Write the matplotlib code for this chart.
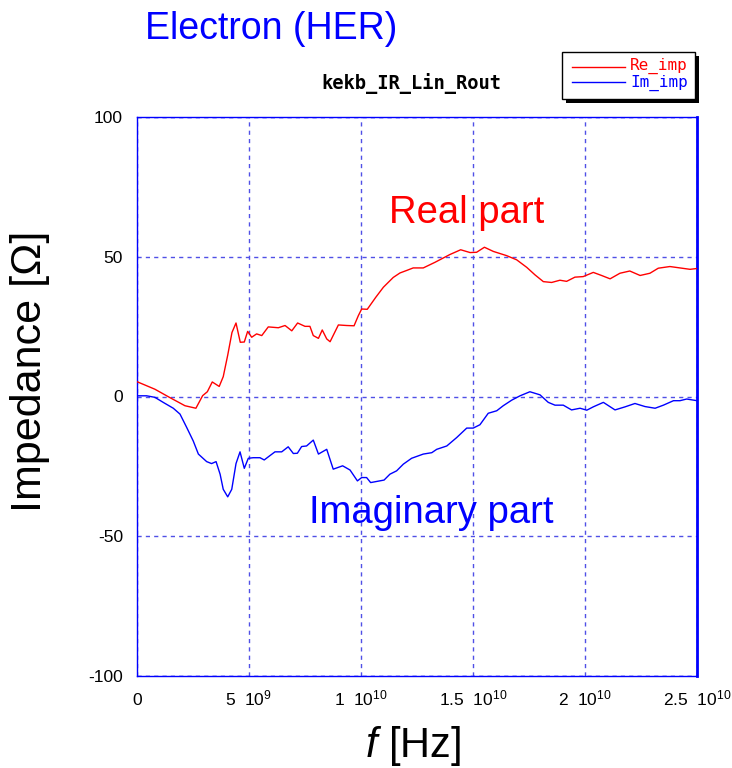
import matplotlib
matplotlib.use("Agg")
import matplotlib.pyplot as plt
from matplotlib.patches import Rectangle
from matplotlib.lines import Line2D
import numpy as np

plt.rcParams['font.family'] = ['Liberation Sans', 'DejaVu Sans']
plt.rcParams['mathtext.fontset'] = 'custom'
plt.rcParams['mathtext.rm'] = 'Liberation Sans'
plt.rcParams['mathtext.it'] = 'Liberation Sans:italic'

# ---- data (frequency in GHz, impedance in Ohm) ----
re_freq_ghz = [0, 0.8, 1.47, 2.14, 2.63, 2.93, 3.14, 3.36, 3.67, 3.85,
               4.05, 4.24, 4.42, 4.61, 4.79, 4.94, 5.12, 5.34, 5.57, 5.86,
               6.31, 6.61, 6.91, 7.17, 7.5, 7.72, 7.87, 8.1, 8.27, 8.47,
               8.62, 8.99, 9.36, 9.69, 9.88, 10.03, 10.28, 10.66, 11.0, 11.44,
               11.74, 12.04, 12.33, 12.78, 13.3, 13.97, 14.45, 14.87, 15.16, 15.51,
               15.91, 16.5, 16.95, 17.4, 17.77, 18.14, 18.51, 18.88, 19.18, 19.55,
               19.92, 20.37, 20.74, 21.12, 21.56, 22.0, 22.46, 22.9, 23.27, 23.79,
               24.24, 24.69, 25.0]
re_imp = [5.3, 2.6, -0.4, -3.3, -4.2, 0.3, 1.7, 5.2, 3.6, 7.1,
          14.8, 22.9, 26.3, 19.4, 19.5, 23.3, 21.2, 22.4, 21.8, 24.9,
          24.6, 25.4, 23.5, 26.3, 25.1, 25.1, 21.8, 20.8, 23.8, 20.6,
          19.6, 25.6, 25.4, 25.3, 28.9, 31.3, 31.2, 35.5, 39.1, 42.6,
          44.2, 45.1, 46.0, 46.0, 48.0, 50.8, 52.5, 51.5, 51.6, 53.4,
          51.9, 50.4, 48.9, 46.2, 43.5, 41.1, 40.8, 41.6, 41.2, 42.7,
          42.9, 44.4, 43.3, 42.1, 44.1, 44.9, 43.3, 44.1, 45.9, 46.5,
          46.0, 45.5, 45.8]

im_freq_ghz = [0, 0.43, 0.8, 1.17, 1.62, 1.92, 2.22, 2.51, 2.74, 3.11,
               3.33, 3.53, 3.71, 3.85, 4.05, 4.23, 4.42, 4.6, 4.79, 4.97,
               5.19, 5.49, 5.68, 5.91, 6.16, 6.46, 6.75, 6.98, 7.16, 7.35,
               7.57, 7.87, 8.1, 8.47, 8.76, 9.18, 9.51, 9.84, 10.03, 10.25,
               10.43, 11.03, 11.29, 11.59, 11.89, 12.26, 12.78, 13.16, 13.38, 13.83,
               14.27, 14.72, 15.01, 15.31, 15.68, 16.06, 16.35, 16.73, 17.1, 17.54,
               17.99, 18.36, 18.66, 19.03, 19.4, 19.78, 20.08, 20.37, 20.82, 21.34,
               21.79, 22.23, 22.68, 23.13, 23.5, 23.95, 24.24, 24.54, 25.0]
im_imp = [0.25, 0.25, -0.3, -2.1, -4.2, -6.3, -11.1, -15.9, -20.6, -23.3,
          -24.0, -23.3, -27.8, -33.2, -35.9, -33.2, -24.0, -19.8, -25.7, -22.1,
          -21.9, -21.9, -22.7, -21.3, -19.8, -19.8, -18.0, -20.4, -20.3, -17.9,
          -17.7, -15.6, -20.6, -18.9, -26.0, -24.8, -26.3, -30.2, -29.0, -29.0,
          -30.8, -29.9, -27.8, -26.6, -24.2, -22.1, -20.6, -20.1, -18.9, -17.7,
          -14.7, -11.3, -11.3, -10.1, -6.0, -5.1, -3.3, -1.3, 0.25, 1.7,
          0.6, -2.1, -3.1, -3.1, -4.8, -4.2, -4.9, -3.7, -2.1, -4.8,
          -3.7, -2.5, -3.6, -4.2, -3.1, -1.5, -1.5, -0.9, -1.5]

x_ticks = [0, 5e9, 1e10, 1.5e10, 2e10, 2.5e10]
x_tick_labels = [r'$\mathregular{0}$', r'$\mathregular{5\ \ 10^{9}}$',
                 r'$\mathregular{1\ \ 10^{10}}$', r'$\mathregular{1.5\ \ 10^{10}}$',
                 r'$\mathregular{2\ \ 10^{10}}$', r'$\mathregular{2.5\ \ 10^{10}}$']
y_ticks = [-100, -50, 0, 50, 100]
y_tick_labels = ['-100', '-50', '0', '50', '100']

W, H = 732, 768
fig = plt.figure(figsize=(W / 100, H / 100), dpi=100)

def fx(px):
    return px / W

def fy(py):
    return 1 - py / H

ax = fig.add_axes([fx(137), fy(676), fx(697) - fx(137), fy(117) - fy(676)])

blue = '#0000ff'
red = '#ff0000'
grid_c = '#5050e6'

ax.plot(np.array(re_freq_ghz) * 1e9, re_imp, color=red, lw=1.0, zorder=3)
ax.plot(np.array(im_freq_ghz) * 1e9, im_imp, color=blue, lw=1.0, zorder=3)

ax.set_xlim(0, 2.5e10)
ax.set_ylim(-100, 100)
ax.set_xticks(x_ticks)
ax.set_xticklabels(x_tick_labels, fontsize=12.5)
for lab in ax.get_xticklabels():
    lab.set_verticalalignment('baseline')
ax.set_yticks(y_ticks)
ax.set_yticklabels(y_tick_labels, fontsize=12.5)
ax.tick_params(axis='both', length=0)
ax.tick_params(axis='x', pad=21)
ax.tick_params(axis='y', pad=10)

for s in ax.spines.values():
    s.set_color(blue)
    s.set_linewidth(1.0)
ax.spines['right'].set_linewidth(2.0)

ax.grid(True, color=grid_c, linestyle=(0, (3, 3)), linewidth=1.0)
for v in [100, -100]:
    ax.axhline(v, color=grid_c, linestyle=(0, (3, 3)), lw=1.0, zorder=2)

fig.text(fx(413), fy(746), r'$\mathit{f}$ [Hz]', fontsize=30,
         ha='center', va='center')
fig.text(fx(30), fy(371), 'Impedance [Ω]', fontsize=31, rotation=90,
         ha='center', va='center')

fig.text(fx(145), fy(29), 'Electron (HER)', color=blue, fontsize=27,
         ha='left', va='center')
fig.text(fx(411), fy(84), 'kekb_IR_Lin_Rout', color='black', fontsize=13.5,
         fontweight='bold', family='DejaVu Sans Mono', ha='center', va='center')

fig.text(fx(467), fy(213), 'Real part', color=red, fontsize=27.5,
         ha='center', va='center')
fig.text(fx(431), fy(513), 'Imaginary part', color=blue, fontsize=27.5,
         ha='center', va='center')

# legend box with shadow
x0, y0, x1, y1 = 562, 52, 695, 99
fig.add_artist(Rectangle((fx(x0 + 4), fy(y1 + 4)), fx(x1) - fx(x0), fy(y0) - fy(y1),
                         transform=fig.transFigure, facecolor='black',
                         edgecolor='black', lw=0))
fig.add_artist(Rectangle((fx(x0), fy(y1)), fx(x1) - fx(x0), fy(y0) - fy(y1),
                         transform=fig.transFigure, facecolor='white',
                         edgecolor='black', lw=1.0))
fig.add_artist(Line2D([fx(572), fx(625)], [fy(67), fy(67)], color=red, lw=1.0,
                      transform=fig.transFigure))
fig.add_artist(Line2D([fx(572), fx(625)], [fy(82), fy(82)], color=blue, lw=1.0,
                      transform=fig.transFigure))
fig.text(fx(630), fy(66), 'Re_imp', color=red, fontsize=11.5,
         family='DejaVu Sans Mono', ha='left', va='center')
fig.text(fx(630), fy(83), 'Im_imp', color=blue, fontsize=11.5,
         family='DejaVu Sans Mono', ha='left', va='center')

fig.savefig('out.png', dpi=100)
